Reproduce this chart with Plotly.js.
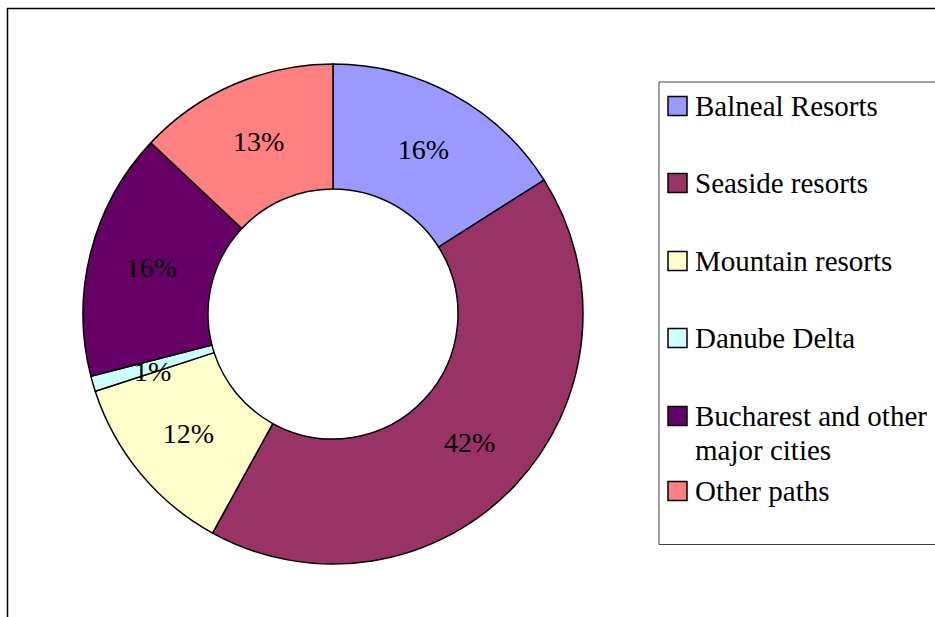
<!DOCTYPE html>
<html>
<head>
<meta charset="utf-8">
<script src="https://cdn.plot.ly/plotly-3.0.1.min.js"></script>
<style>html,body{margin:0;padding:0;background:#fff;}#chart{width:935px;height:617px;}</style>
</head>
<body>
<div id="chart"></div>
<script>
// Data
const categories = ["Balneal Resorts", "Seaside resorts", "Mountain resorts", "Danube Delta", "Bucharest and other major cities", "Other paths"];
const legendText = ["Balneal Resorts", "Seaside resorts", "Mountain resorts", "Danube Delta", "Bucharest and other<br>major cities", "Other paths"];
const shares = [16, 42, 12, 1, 16, 13];
const colors = ["#9999FF", "#993366", "#FFFFCC", "#CCFFFF", "#660066", "#FF8080"];

const W = 935, H = 617;
const px = x => x / W;
const py = y => 1 - y / H;
const FONT = "'Liberation Serif', 'Times New Roman', Times, serif";

// pie geometry (pixels)
const cx = 333, cy = 314, R = 250, HOLE = 0.5;

// thin slices get their label placed at the ring's middle radius (as in the original)
const total = shares.reduce((a, b) => a + b, 0);
const isThin = shares.map(v => v / total < 0.03);
const templates = shares.map((v, i) => isThin[i] ? "" : "%{percent:.0%}");

const trace = {
  type: "pie",
  labels: categories,
  values: shares,
  sort: false,
  direction: "clockwise",
  rotation: 0,
  hole: HOLE,
  marker: { colors: colors, line: { color: "#000000", width: 1.5 } },
  texttemplate: templates,
  textposition: "inside",
  insidetextorientation: "horizontal",
  textfont: { family: FONT, size: 28, color: "#000000" },
  domain: { x: [px(cx - R), px(cx + R)], y: [py(cy + R), py(cy - R)] },
  showlegend: false,
  hoverinfo: "label+percent"
};

const shapes = [
  // outer frame (top and left edges)
  { type: "line", xref: "paper", yref: "paper", x0: px(7), x1: px(940), y0: py(8.5), y1: py(8.5), line: { color: "#000", width: 1.5 } },
  { type: "line", xref: "paper", yref: "paper", x0: px(7.5), x1: px(7.5), y0: py(8), y1: py(620), line: { color: "#000", width: 1.5 } },
  // legend box
  { type: "rect", xref: "paper", yref: "paper", x0: px(659), x1: px(945), y0: py(82), y1: py(544.5), line: { color: "#444", width: 1 }, fillcolor: "rgba(0,0,0,0)" }
];
const annotations = [];

// labels for thin slices, positioned from the cumulative shares
let cum = 0;
shares.forEach((v, i) => {
  const mid = (cum + v / 2) / total * 2 * Math.PI;
  cum += v;
  if (!isThin[i]) return;
  const rm = R * (1 + HOLE) / 2;
  annotations.push({
    xref: "paper", yref: "paper",
    x: px(cx + rm * Math.sin(mid)), y: py(cy - rm * Math.cos(mid) + 5),
    xanchor: "center", yanchor: "middle", showarrow: false,
    text: Math.round(v / total * 100) + "%", font: { family: FONT, size: 28, color: "#000" }
  });
});

// legend (drawn from the arrays)
const legendY = [106, 183, 261, 338, 416, 491];
categories.forEach((c, i) => {
  const yc = legendY[i];
  shapes.push({ type: "rect", xref: "paper", yref: "paper", x0: px(668), x1: px(687), y0: py(yc + 9.5), y1: py(yc - 9.5), fillcolor: colors[i], line: { color: "#000", width: 1.5 } });
  legendText[i].split("<br>").forEach((line, k) => {
    annotations.push({
      xref: "paper", yref: "paper", x: px(693), y: py(yc + k * 34),
      xanchor: "left", yanchor: "middle", align: "left", showarrow: false,
      text: line, font: { family: FONT, size: 29, color: "#000" }
    });
  });
});

const layout = {
  width: W, height: H,
  margin: { l: 0, r: 0, t: 0, b: 0 },
  paper_bgcolor: "#ffffff",
  font: { family: FONT, color: "#000" },
  uniformtext: { minsize: 28, mode: "show" },
  showlegend: false,
  shapes: shapes,
  annotations: annotations
};

Plotly.newPlot("chart", [trace], layout, { displayModeBar: false, staticPlot: true });
</script>
</body>
</html>
